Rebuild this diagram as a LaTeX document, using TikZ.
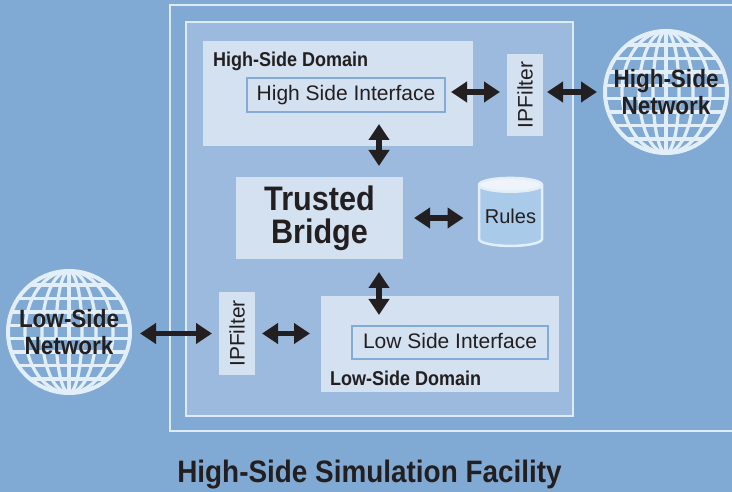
\documentclass[tikz,border=0pt]{standalone}
\usepackage{fontspec}
\setmainfont{Liberation Sans}
\newfontfamily\condbf[FakeStretch=0.9]{Liberation Sans}
\usetikzlibrary{arrows.meta,shapes.geometric}
\definecolor{bg}{RGB}{128,170,211}
\definecolor{mid}{RGB}{156,186,221}
\definecolor{pale}{RGB}{212,225,241}
\definecolor{frameline}{RGB}{222,234,246}
\definecolor{ifline}{RGB}{130,172,213}
\definecolor{gline}{RGB}{226,238,248}
\definecolor{cybody}{RGB}{170,202,234}
\definecolor{cytop}{RGB}{238,244,250}
\definecolor{ink}{RGB}{35,31,32}

\begin{document}
\begin{tikzpicture}[x=1pt,y=-1pt,
	every node/.append style={text=ink},
	box/.style={fill=pale,inner sep=0,outer sep=0},
	iface/.style={box,draw=ifline,line width=2pt,font=\fontsize{21}{24}\selectfont,text height=15.5pt,text depth=3.5pt},
	filt/.style={box,minimum width=82pt,minimum height=36pt,rotate=90,font=\fontsize{21}{24}\selectfont},
	lbl/.style={inner sep=0,anchor=base west,font=\condbf\bfseries\fontsize{20}{22}\selectfont},
	globe/.style={circle,minimum size=122pt,inner sep=0,draw=gline,line width=4pt,align=center,
		font=\condbf\bfseries\fontsize{25}{27}\selectfont,
		path picture={
			\foreach \k in {-47,-33.5,-20,-6.7,6.7,20,33.5,47}
				\draw[gline,line width=3.2pt] ([yshift=\k pt]path picture bounding box.west) -- ([yshift=\k pt]path picture bounding box.east);
			\foreach \r in {13,27,44}
				\draw[gline,line width=3.2pt] (path picture bounding box.center) ellipse [x radius=\r pt,y radius=61pt];
			\draw[gline,line width=3.2pt] (path picture bounding box.north) -- (path picture bounding box.south);
		}},
	dbl/.style={draw=ink,line width=5.5pt,arrows={Triangle[length=16pt,width=20pt]-Triangle[length=16pt,width=20pt]},shorten <=7pt,shorten >=7pt}]
	\fill[bg,use as bounding box] (0,0) rectangle (732,492);
	\draw[frameline,line width=2.5pt] (170,5) rectangle (745,431);
	\draw[frameline,fill=mid,line width=2pt] (186,22) rectangle (573,416);
	\node[box,minimum width=270pt,minimum height=105pt] (hd) at (338,93.5) {};
	\node[lbl] (hdl) at (213,67) {High-Side Domain};
	\node[iface,minimum width=198pt,minimum height=34pt] (hi) at (346,95) {High Side Interface};
	\node[filt] (hf) at (525,95) {IPFilter};
	\node[globe] (hn) at (666,92) {High-Side\\Network};
	\node[box,minimum width=167pt,minimum height=82pt,align=center,font=\condbf\bfseries\fontsize{34}{33}\selectfont] (tb) at (319.5,218) {Trusted\\Bridge};
	\node[cylinder,shape border rotate=90,aspect=0.27,minimum width=63pt,minimum height=68pt,inner sep=0,draw=gline,line width=2.5pt,
		cylinder uses custom fill,cylinder body fill=cybody,cylinder end fill=cytop,font=\fontsize{20}{24}\selectfont] (ru) at (510.5,216) {Rules};
	\node[box,minimum width=238pt,minimum height=96pt] (ld) at (440,344) {};
	\node[lbl] (ldl) at (330,385) {Low-Side Domain};
	\node[iface,minimum width=196pt,minimum height=33pt] (li) at (450,342.5) {Low Side Interface};
	\node[filt] (lf) at (237,333.5) {IPFilter};
	\node[globe] (ln) at (69,332) {Low-Side\\Network};
	\node[inner sep=0,anchor=base,font=\condbf\bfseries\fontsize{31}{36}\selectfont] (tt) at (369.5,482) {High-Side Simulation Facility};
	\coordinate (vx) at (379,0);
	\draw[dbl,shorten <=6pt] (hi.east |- hn) -- (hf.north |- hn);
	\draw[dbl,shorten <=4pt,shorten >=6pt] (hf.south |- hn) -- (hn.west);
	\draw[dbl,shorten <=12pt,shorten >=11pt] (hi.south -| vx) -- (tb.north -| vx);
	\draw[dbl,shorten <=11pt,shorten >=47pt] (tb.east) -- (tb.east -| ru);
	\draw[dbl,shorten <=13pt,shorten >=11pt] (tb.south -| vx) -- (li.north -| vx);
	\draw[dbl,shorten <=8pt] (ln.east |- lf.center) -- (lf.north);
	\draw[dbl,shorten >=11pt] (lf.south) -- (ld.west |- lf.center);
\end{tikzpicture}
\end{document}
